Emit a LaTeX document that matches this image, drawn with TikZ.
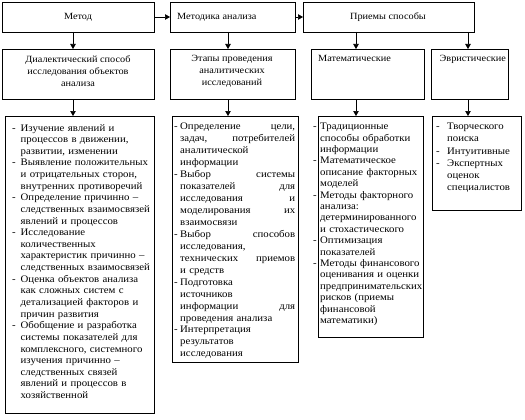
\documentclass[tikz,border=0pt]{standalone}
\usepackage{fontspec}
\setmainfont{Liberation Serif}[FakeStretch=1.08]
\usetikzlibrary{arrows.meta}
\newlength\ind
\newlength\jw
\newcommand\ldash[1]{\makebox[\ind][l]{-}#1}
\newcommand\lcont[1]{\hspace*{\ind}#1}
\newcommand\jdash[2]{\makebox[\ind][l]{-}\makebox[\jw][l]{#1\hfill #2}}
\newcommand\jcont[2]{\hspace*{\ind}\makebox[\jw][l]{#1\hfill #2}}
\tikzset{
  box/.style={draw, line width=0.7pt, inner sep=0pt, outer sep=0pt, anchor=north west},
  arr/.style={line width=0.7pt, -{Triangle[length=5pt,width=5.5pt]}},
  lbl/.style={inner sep=0pt, align=center, font=\fontsize{9.5}{12}\selectfont},
  txt/.style={inner sep=0pt, anchor=north west, align=left},
}
\begin{document}
\begin{tikzpicture}[x=1pt,y=-1pt]
\useasboundingbox (0,0) rectangle (525,420);
% row 1
\node[box, minimum width=152pt, minimum height=30pt] (m1) at (2,2) {};
\node[box, minimum width=125pt, minimum height=30pt] (m2) at (170,2) {};
\node[box, minimum width=171pt, minimum height=30pt] (m3) at (303,2) {};
% row 2
\node[box, minimum width=152pt, minimum height=50pt] (s1) at (2,49) {};
\node[box, minimum width=125pt, minimum height=50pt] (s2) at (170,49) {};
\node[box, minimum width=113pt, minimum height=50pt] (s3) at (311,49) {};
\node[box, minimum width=77pt, minimum height=50pt] (s4) at (431,49) {};
% row 3
\node[box, minimum width=149pt, minimum height=297pt] (d1) at (5,116) {};
\node[box, minimum width=126pt, minimum height=246pt] (d2) at (172,116) {};
\node[box, minimum width=105pt, minimum height=221pt] (d3) at (318,116) {};
\node[box, minimum width=89pt, minimum height=94pt] (d4) at (432,116) {};
% arrow columns
\coordinate (a1) at (73,0);
\coordinate (a2) at (228,0);
\coordinate (a3) at (356,0);
\coordinate (a4) at (468,0);
\draw[arr] (m1.east) -- (m2.west);
\draw[arr] (m2.east) -- (m3.west);
\draw[arr] (m1.south -| a1) -- (s1.north -| a1);
\draw[arr] (m2.south -| a2) -- (s2.north -| a2);
\draw[arr] (m3.south -| a3) -- (s3.north -| a3);
\draw[arr] (m3.south -| a4) -- (s4.north -| a4);
\draw[arr] (s1.south -| a1) -- (d1.north -| a1);
\draw[arr] (s2.south -| a2) -- (d2.north -| a2);
\draw[arr] (s3.south -| a3) -- (d3.north -| a3);
\draw[arr] (s4.south -| a4) -- (d4.north -| a4);
% row 1 labels
\node[lbl] (l1) at (78,17) {Метод};
\node[lbl, anchor=west] (l2) at (177,17) {Методика анализа};
\node[lbl] (l3) at (388,17) {Приемы способы};
% row 2 labels
\node[lbl, anchor=north] (k1) at (78,55) {Диалектический способ\\исследования объектов\\анализа};
\node[lbl, anchor=north] (k2) at (232,55) {Этапы проведения\\аналитических\\исследований};
\node[lbl, anchor=north west] (k3) at (318,55) {Математические};
\node[lbl, anchor=north west] (k4) at (439.5,55) {Эвристические};
% row 3 texts
\node[txt, text width=143pt, font=\fontsize{10}{11.63}\selectfont] (t1) at (12,124) {\setlength\ind{8.5pt}%
\ldash{Изучение явлений и}\\
\lcont{процессов в движении,}\\
\lcont{развитии, изменении}\\
\ldash{Выявление положительных}\\
\lcont{и отрицательных сторон,}\\
\lcont{внутренних противоречий}\\
\ldash{Определение причинно –}\\
\lcont{следственных взаимосвязей}\\
\lcont{явлений и процессов}\\
\ldash{Исследование}\\
\lcont{количественных}\\
\lcont{характеристик причинно –}\\
\lcont{следственных взаимосвязей}\\
\ldash{Оценка объектов анализа}\\
\lcont{как сложных систем с}\\
\lcont{детализацией факторов и}\\
\lcont{причин развития}\\
\ldash{Обобщение и разработка}\\
\lcont{системы показателей для}\\
\lcont{комплексного, системного}\\
\lcont{изучения причинно –}\\
\lcont{следственных связей}\\
\lcont{явлений и процессов в}\\
\lcont{хозяйственной}};
\node[txt, text width=121pt, font=\fontsize{10}{11.95}\selectfont] (t2) at (174,123) {\setlength\ind{6pt}\setlength\jw{115pt}%
\jdash{Определение}{цели,}\\
\jcont{задач,}{потребителей}\\
\lcont{аналитической}\\
\lcont{информации}\\
\jdash{Выбор}{системы}\\
\jcont{показателей}{для}\\
\jcont{исследования}{и}\\
\jcont{моделирования}{их}\\
\lcont{взаимосвязи}\\
\jdash{Выбор}{способов}\\
\lcont{исследования,}\\
\jcont{технических}{приемов}\\
\lcont{и средств}\\
\ldash{Подготовка}\\
\lcont{источников}\\
\jcont{информации}{для}\\
\lcont{проведения анализа}\\
\ldash{Интерпретация}\\
\lcont{результатов}\\
\lcont{исследования}};
\node[txt, text width=108pt, font=\fontsize{10}{11.4}\selectfont] (t3) at (313,123) {\setlength\ind{7pt}%
\ldash{Традиционные}\\
\lcont{способы обработки}\\
\lcont{информации}\\
\ldash{Математическое}\\
\lcont{описание факторных}\\
\lcont{моделей}\\
\ldash{Методы факторного}\\
\lcont{анализа:}\\
\lcont{детерминированного}\\
\lcont{и стохастического}\\
\ldash{Оптимизация}\\
\lcont{показателей}\\
\ldash{Методы финансового}\\
\lcont{оценивания и оценки}\\
\lcont{предпринимательских}\\
\lcont{рисков (приемы}\\
\lcont{финансовой}\\
\lcont{математики)}};
\node[txt, text width=82pt, font=\fontsize{10}{12.2}\selectfont] (t4) at (436,123) {\setlength\ind{11pt}%
\ldash{Творческого}\\
\lcont{поиска}\\
\ldash{Интуитивные}\\
\ldash{Экспертных}\\
\lcont{оценок}\\
\lcont{специалистов}};
\end{tikzpicture}
\end{document}
